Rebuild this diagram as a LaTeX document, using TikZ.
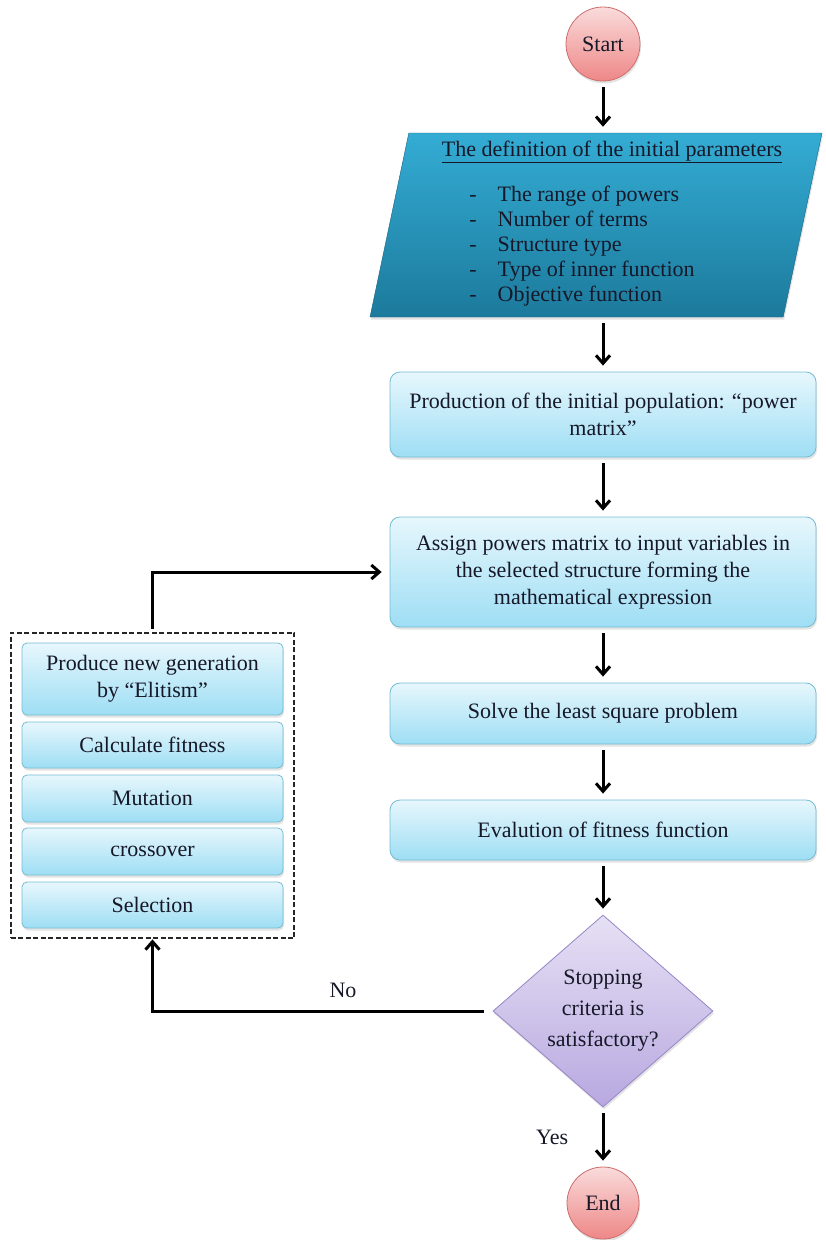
\documentclass[tikz,border=0pt]{standalone}
\usepackage{fontspec}
\setmainfont{Liberation Serif}
\usepackage{tikz}
\usetikzlibrary{positioning,arrows.meta,calc,shapes.geometric,shadows,fit}
\definecolor{termred}{RGB}{238,135,135}
\definecolor{termline}{RGB}{205,110,110}
\definecolor{stepcyan}{RGB}{158,222,244}
\definecolor{stepline}{RGB}{115,188,212}
\definecolor{parblue}{RGB}{28,122,156}
\definecolor{partop}{RGB}{52,172,212}
\definecolor{decpurple}{RGB}{184,168,224}
\definecolor{decline}{RGB}{150,134,200}
\definecolor{inktext}{RGB}{22,24,40}
\tikzset{
  softshadow/.style={drop shadow={opacity=0.22, shadow xshift=1pt, shadow yshift=-2.5pt}},
  term/.style={circle, draw=termline, thick, top color=termred!30, bottom color=termred,
               minimum size=74pt, inner sep=0pt, text=inktext, softshadow,
               font=\fontsize{22}{27}\selectfont},
  stepbox/.style={draw=stepline, thick, rounded corners=10pt, top color=stepcyan!25,
                  bottom color=stepcyan, minimum width=426pt, align=center, text=inktext,
                  softshadow, font=\fontsize{22}{27}\selectfont},
  genbox/.style={stepbox, minimum width=261pt, rounded corners=5pt},
  inputbox/.style={trapezium, trapezium left angle=77, trapezium right angle=103,
                   trapezium stretches body, minimum width=452pt, minimum height=184pt,
                   top color=partop, bottom color=parblue, draw=parblue!80!black, inner sep=0pt,
                   align=center, text=inktext, softshadow, font=\fontsize{22}{25}\selectfont},
  decision/.style={diamond, aspect=1.15, draw=decline, thick, top color=decpurple!35,
                   bottom color=decpurple, minimum width=220pt, minimum height=192pt,
                   inner sep=0pt, align=center, text=inktext, softshadow,
                   font=\fontsize{22}{31}\selectfont},
  groupbox/.style={draw=black!85, line width=2pt, dash pattern=on 5pt off 2.5pt},
  edge/.style={-{Straight Barb[length=8pt,width=14pt]}, line width=3pt,
               shorten >=6pt, shorten <=6pt},
  link/.style={edge, shorten >=0pt, shorten <=9pt},
  lbl/.style={font=\fontsize{22}{27}\selectfont, text=inktext}
}
\begin{document}
\begin{tikzpicture}[x=1pt,y=-1pt]
    \useasboundingbox (0,0) rectangle (826,1240);
    % main column
    \node[term] (start) at (603,44) {Start};
    \node[inputbox] (params) at (596,225) {\hspace*{32pt}\underline{The definition of the initial parameters}\\[20pt]
      \begin{tabular}{@{}l@{\hspace{21pt}}l@{}}
        - & The range of powers\\
        - & Number of terms\\
        - & Structure type\\
        - & Type of inner function\\
        - & Objective function
      \end{tabular}\hspace*{28pt}};
    \node[stepbox, minimum height=85pt] (prod) at (603,414.5) {Production of the initial population: “power\\ matrix”};
    \node[stepbox, minimum height=110pt] (assign) at (603,572) {Assign powers matrix to input variables in\\ the selected structure forming the\\ mathematical expression};
    \node[stepbox, minimum height=61pt] (solve) at (603,713.5) {Solve the least square problem};
    \node[stepbox, minimum height=60pt] (fitness) at (603,830) {Evalution of fitness function};
    \node[decision] (stop) at (603,1011) {Stopping\\ criteria is\\ satisfactory?};
    \node[term, minimum size=72pt] (end) at (603,1203) {End};
    % genetic operators
    \node[genbox, minimum height=72pt] (elite) at (152.5,679) {Produce new generation\\ by “Elitism”};
    \node[genbox, minimum height=46pt] (calc) at (152.5,745) {Calculate fitness};
    \node[genbox, minimum height=47pt] (mut) at (152.5,798.5) {Mutation};
    \node[genbox, minimum height=47pt] (cross) at (152.5,851.5) {crossover};
    \node[genbox, minimum height=46pt] (sel) at (152.5,905) {Selection};
    \node[groupbox, fit=(elite)(sel), inner xsep=11pt, inner ysep=10pt] (ga) {};
    \draw[edge] (start.south) -- (start.south |- params.north);
    \draw[edge] (prod.north |- params.south) -- (prod.north);
    \draw[edge] (prod) -- (assign);
    \draw[edge] (assign) -- (solve);
    \draw[edge] (solve) -- (fitness);
    \draw[edge] (fitness) -- (stop);
    \draw[edge] (stop) -- node[lbl, left=30pt] {Yes} (end);
    \draw[link] (stop.west) -| node[lbl, pos=0.22, above=8pt] {No} (ga.south);
    \draw[link, shorten >=8pt, shorten <=3pt] (ga.north) |- (assign.west);
\end{tikzpicture}
\end{document}
